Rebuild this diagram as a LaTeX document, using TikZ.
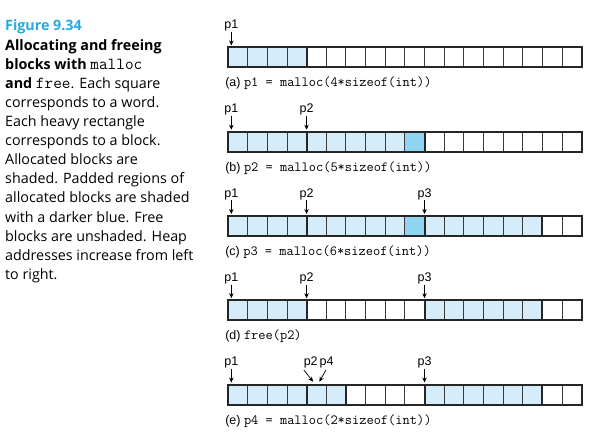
\documentclass[tikz,border=0pt]{standalone}
\usepackage{fontspec}
\setsansfont{Liberation Sans}
\newfontfamily\notefont{Open Sans}
\usetikzlibrary{arrows.meta}
\definecolor{wordblue}{HTML}{D5EDFA}
\definecolor{padblue}{HTML}{8FD5F3}
\definecolor{figcyan}{HTML}{29A9E1}
\definecolor{gridgray}{HTML}{3A3A3A}
\newcommand\codett[1]{{\ttfamily\fontsize{14}{16}\selectfont #1}}
\newcommand\notett[1]{{\ttfamily\fontsize{16.8}{19}\selectfont #1}}

\begin{document}
\begin{tikzpicture}[x=1pt, y=-1pt,
  cell/.style={draw=gridgray, line width=0.9pt},
  blk/.style={draw=black!85, line width=2pt},
  used/.style={fill=wordblue},
  pad/.style={fill=padblue},
  ptr/.style={-{Stealth[length=5pt,width=4.4pt]}, line width=0.75pt},
  plab/.style={font=\sffamily\fontsize{12.5}{14}\selectfont, inner sep=0.6pt, anchor=base},
  capt/.style={anchor=base west, inner sep=0pt, font=\sffamily\fontsize{12.5}{14}\selectfont},
  note/.style={anchor=base west, inner sep=0pt, font=\notefont\fontsize{14.3}{19}\selectfont}]
\useasboundingbox (0,0) rectangle (595,441);
% ---------------- caption on the left ----------------
\foreach \txt [count=\i] in {
  {{\color{figcyan}\bfseries Figure 9.34}},
  {{\bfseries Allocating and freeing}},
  {{\bfseries blocks with} \notett{malloc}},
  {{\bfseries and} \notett{free}. Each square},
  {corresponds to a word.},
  {Each heavy rectangle},
  {corresponds to a block.},
  {Allocated blocks are},
  {shaded. Padded regions of},
  {allocated blocks are shaded},
  {with a darker blue. Free},
  {blocks are unshaded. Heap},
  {addresses increase from left},
  {to right.}}
  \node[note] (line\i) at (5,{31+19.1*(\i-1)}) {\txt};
% ---------------- (a) ----------------
\begin{scope}[shift={(228pt,-47.5pt)}, x=19.65pt, y=-20pt]
\fill[used] (0,0) rectangle (4,1);
\foreach \k in {1,...,17} \draw[cell] (\k,0) -- (\k,1);
\draw[blk] (4,0) -- (4,1);
\draw[blk] (0,0) rectangle (18,1);
\node[plab] (a-p1) at (0.17,-0.95) {p1};
\coordinate (a-t1) at (0.17,-0.1);
\draw[ptr] (a-p1) -- (a-t1);
\node[capt] (a-cap) at (-0.15,1.975) {(a) \codett{p1 = malloc(4*sizeof(int))}};
\end{scope}
% ---------------- (b) ----------------
\begin{scope}[shift={(228pt,-131.75pt)}, x=19.65pt, y=-20pt]
\fill[used] (0,0) rectangle (9,1);
\fill[pad] (9,0) rectangle (10,1);
\foreach \k in {1,...,17} \draw[cell] (\k,0) -- (\k,1);
\foreach \b in {4,10} \draw[blk] (\b,0) -- (\b,1);
\draw[blk] (0,0) rectangle (18,1);
\node[plab] (b-p1) at (0.17,-0.95) {p1};
\node[plab] (b-p2) at (4,-0.95) {p2};
\coordinate (b-t1) at (0.17,-0.1);
\coordinate (b-t2) at (4,-0.1);
\draw[ptr] (b-p1) -- (b-t1);
\draw[ptr] (b-p2) -- (b-t2);
\node[capt] (b-cap) at (-0.15,1.975) {(b) \codett{p2 = malloc(5*sizeof(int))}};
\end{scope}
% ---------------- (c) ----------------
\begin{scope}[shift={(228pt,-216pt)}, x=19.65pt, y=-20pt]
\fill[used] (0,0) rectangle (16,1);
\fill[pad] (9,0) rectangle (10,1);
\foreach \k in {1,...,17} \draw[cell] (\k,0) -- (\k,1);
\foreach \b in {4,10,16} \draw[blk] (\b,0) -- (\b,1);
\draw[blk] (0,0) rectangle (18,1);
\node[plab] (c-p1) at (0.17,-0.95) {p1};
\node[plab] (c-p2) at (4,-0.95) {p2};
\node[plab] (c-p3) at (10,-0.95) {p3};
\coordinate (c-t1) at (0.17,-0.1);
\coordinate (c-t2) at (4,-0.1);
\coordinate (c-t3) at (10,-0.1);
\draw[ptr] (c-p1) -- (c-t1);
\draw[ptr] (c-p2) -- (c-t2);
\draw[ptr] (c-p3) -- (c-t3);
\node[capt] (c-cap) at (-0.15,1.975) {(c) \codett{p3 = malloc(6*sizeof(int))}};
\end{scope}
% ---------------- (d) ----------------
\begin{scope}[shift={(228pt,-300.25pt)}, x=19.65pt, y=-20pt]
\fill[used] (0,0) rectangle (4,1);
\fill[used] (10,0) rectangle (16,1);
\foreach \k in {1,...,17} \draw[cell] (\k,0) -- (\k,1);
\foreach \b in {4,10,16} \draw[blk] (\b,0) -- (\b,1);
\draw[blk] (0,0) rectangle (18,1);
\node[plab] (d-p1) at (0.17,-0.95) {p1};
\node[plab] (d-p2) at (4,-0.95) {p2};
\node[plab] (d-p3) at (10,-0.95) {p3};
\coordinate (d-t1) at (0.17,-0.1);
\coordinate (d-t2) at (4,-0.1);
\coordinate (d-t3) at (10,-0.1);
\draw[ptr] (d-p1) -- (d-t1);
\draw[ptr] (d-p2) -- (d-t2);
\draw[ptr] (d-p3) -- (d-t3);
\node[capt] (d-cap) at (-0.15,1.975) {(d) \codett{free(p2)}};
\end{scope}
% ---------------- (e) ----------------
\begin{scope}[shift={(228pt,-384.5pt)}, x=19.65pt, y=-20pt]
\fill[used] (0,0) rectangle (6,1);
\fill[used] (10,0) rectangle (16,1);
\foreach \k in {1,...,17} \draw[cell] (\k,0) -- (\k,1);
\foreach \b in {4,6,10,16} \draw[blk] (\b,0) -- (\b,1);
\draw[blk] (0,0) rectangle (18,1);
\node[plab] (e-p1) at (0.17,-0.95) {p1};
\node[plab] (e-p2) at (4.21,-0.95) {p2};
\node[plab] (e-p4) at (5.02,-0.95) {p4};
\node[plab] (e-p3) at (10,-0.95) {p3};
\coordinate (e-t1) at (0.17,-0.1);
\coordinate (e-t2) at (4.33,-0.14);
\coordinate (e-t4) at (4.65,-0.14);
\coordinate (e-t3) at (10,-0.1);
\draw[ptr] (e-p1) -- (e-t1);
\draw[ptr, shorten <=1.5pt] (e-p2.south west) -- (e-t2);
\draw[ptr, shorten <=1.5pt] (e-p4.south) -- (e-t4);
\draw[ptr] (e-p3) -- (e-t3);
\node[capt] (e-cap) at (-0.15,1.975) {(e) \codett{p4 = malloc(2*sizeof(int))}};
\end{scope}
\end{tikzpicture}
\end{document}
